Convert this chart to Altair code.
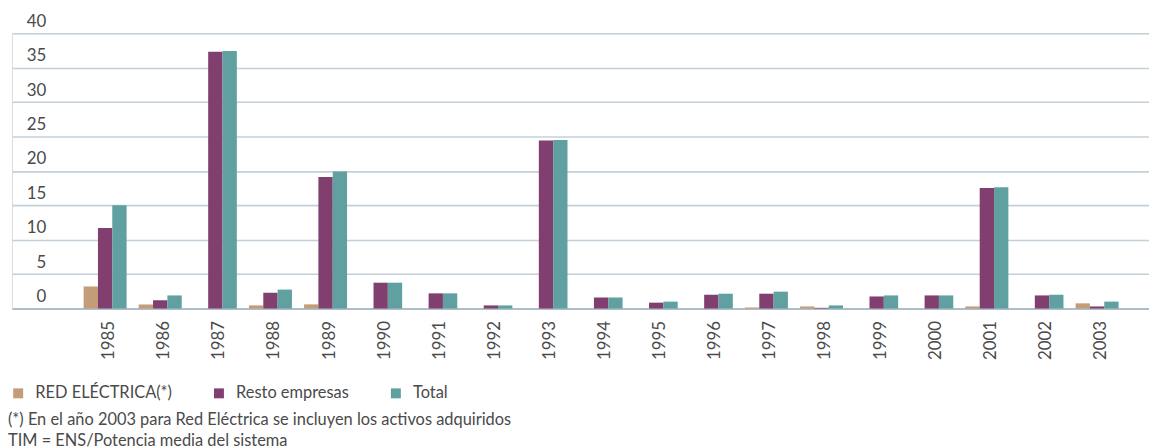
import altair as alt
import pandas as pd

years = [str(y) for y in range(1985, 2004)]
red_electrica = [3.2, 0.6, 0.0, 0.45, 0.6, 0.0, 0.0, 0.0, 0.0, 0.0, 0.0, 0.0, 0.15, 0.3, 0.0, 0.0, 0.3, 0.0, 0.75]
resto_empresas = [11.7, 1.2, 37.3, 2.3, 19.1, 3.75, 2.2, 0.45, 24.4, 1.6, 0.85, 2.0, 2.15, 0.1, 1.75, 1.9, 17.5, 1.9, 0.3]
total = [15.0, 1.9, 37.4, 2.75, 19.9, 3.75, 2.2, 0.45, 24.5, 1.6, 1.0, 2.15, 2.45, 0.45, 1.9, 1.9, 17.6, 2.0, 1.0]

series_names = ["RED ELÉCTRICA(*)", "Resto empresas", "Total"]
series_colors = ["#C29D78", "#813F70", "#60A0A0"]
y_ticks = [0, 5, 10, 15, 20, 25, 30, 35, 40]
footnotes = [
    "(*) En el año 2003 para Red Eléctrica se incluyen los activos adquiridos",
    "TIM = ENS/Potencia media del sistema",
]

rows = []
for name, vals in zip(series_names, [red_electrica, resto_empresas, total]):
    for y, v in zip(years, vals):
        rows.append({"year": y, "serie": name, "value": v})
df = pd.DataFrame(rows)

FONT = "Lato"
TXT = "#4a4a4a"

chart = alt.Chart(df).mark_bar().encode(
    x=alt.X(
        "year:N",
        sort=years,
        title=None,
        scale=alt.Scale(paddingInner=0.22, paddingOuter=0.926, align=0.702),
        axis=alt.Axis(
            labelAngle=-90,
            ticks=False,
            labelPadding=12,
            labelFontSize=17,
            labelFont=FONT,
            labelColor=TXT,
            labelOffset=4,
            domainColor="#AEBDC8",
            domainWidth=2,
            grid=False,
        ),
    ),
    xOffset=alt.XOffset("serie:N", sort=series_names, scale=alt.Scale(paddingInner=0, paddingOuter=0)),
    y=alt.Y(
        "value:Q",
        title=None,
        scale=alt.Scale(domain=[0, 40], nice=False),
        axis=alt.Axis(
            values=y_ticks,
            domain=False,
            ticks=False,
            labelAlign="right",
            labelBaseline="alphabetic",
            labelPadding=-34,
            labelOffset=-7,
            labelFontSize=17,
            labelFont=FONT,
            labelColor=TXT,
            grid=True,
            gridColor="#C4D0D8",
            gridWidth=1.6,
        ),
    ),
    color=alt.Color(
        "serie:N",
        sort=series_names,
        scale=alt.Scale(domain=series_names, range=series_colors),
        legend=alt.Legend(
            title=None,
            orient="none",
            direction="horizontal",
            legendX=-2,
            legendY=354,
            symbolType="square",
            symbolSize=100,
            symbolStrokeWidth=0,
            symbolOpacity=1,
            labelFont=FONT,
            labelFontSize=16.5,
            labelColor=TXT,
            columnPadding=38,
            symbolOffset=0,
            labelOffset=9,
            padding=0,
        ),
    ),
).properties(
    width=1144,
    height=277,
    padding={"left": 4, "top": 24, "right": 0, "bottom": 139},
    autosize=alt.AutoSizeParams(type="none"),
    title=alt.TitleParams(
        text=footnotes,
        orient="bottom",
        anchor="start",
        frame="group",
        baseline="top",
        offset=10,
        dx=-4,
        font=FONT,
        fontSize=16.5,
        fontWeight="normal",
        color=TXT,
        lineHeight=21,
    ),
).configure_view(stroke=None).configure(background="white")

chart.save("out.html", embed_options={"renderer": "svg", "actions": False})
